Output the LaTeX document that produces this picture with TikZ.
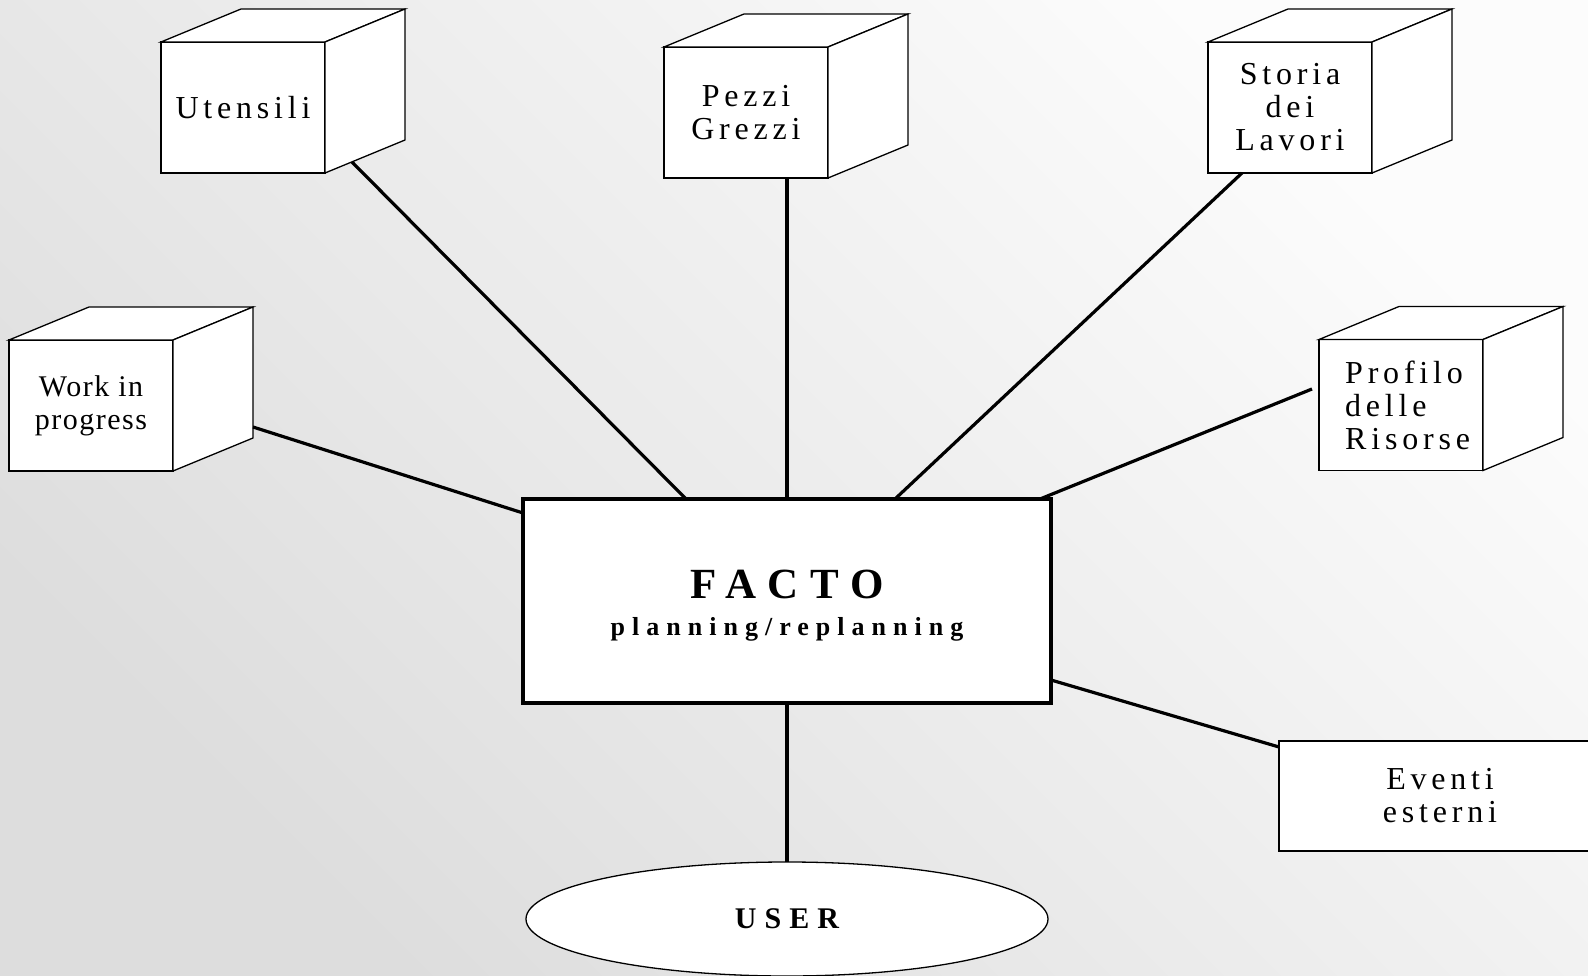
\documentclass[tikz,border=0pt]{standalone}
\usepackage{fontspec}
\setmainfont{Liberation Serif}
\newfontfamily\wideserif[LetterSpace=15]{Liberation Serif}
\newfontfamily\narrowserif[LetterSpace=5]{Liberation Serif}
\newfontfamily\widebold[LetterSpace=27]{Liberation Serif}
\usetikzlibrary{shapes.geometric}

\definecolor{bgdark}{gray}{0.865}
\definecolor{bglight}{gray}{0.99}

\tikzset{
  cubeline/.style={draw=black, fill=white, line width=1.3pt, line join=miter},
  cubeface/.style={cubeline, minimum width=164pt, minimum height=131pt,
    inner sep=0pt, outer sep=0pt, align=center,
    font=\wideserif\fontsize{32}{33}\selectfont},
  labeltext/.style={inner sep=0pt, align=left,
    font=\wideserif\fontsize{32}{33}\selectfont},
  link/.style={line width=3.2pt},
  mainbox/.style={draw=black, fill=white, line width=3.5pt, inner sep=0pt,
    outer sep=0pt, minimum width=528pt, minimum height=204pt, align=center,
    font=\widebold\bfseries\fontsize{26}{37}\selectfont},
  flatbox/.style={cubeline, minimum width=322pt, minimum height=110pt,
    inner sep=0pt, outer sep=0pt, align=center,
    font=\wideserif\fontsize{32}{33}\selectfont},
  userbox/.style={ellipse, cubeline, minimum width=522pt, minimum height=114pt,
    inner sep=0pt, outer sep=0pt,
    font=\widebold\bfseries\fontsize{30}{33}\selectfont}
}

% top and right faces of a box whose front face is node #1
\newcommand\cubesides[1]{%
  \draw[cubeline] (#1.north west) -- ++(80,-33) -- ++(164,0) -- (#1.north east) -- cycle;
  \draw[cubeline] (#1.north east) -- ++(80,-33) -- ++(0,131) -- (#1.south east) -- cycle;
}

\begin{document}
\begin{tikzpicture}[x=1pt, y=-1pt]
  \useasboundingbox (0,0) rectangle (1588,976);
  \shade[top color=bglight, bottom color=bgdark, shading angle=-45]
    (0,0) rectangle (1588,976);

  % data stores
  \node[cubeface] (ut) at (243,107.5) {Utensili};
  \cubesides{ut}
  \node[cubeface] (pz) at (746,112.5) {Pezzi\\Grezzi};
  \cubesides{pz}
  \node[cubeface] (st) at (1290,107.5) {Storia\\dei\\Lavori};
  \cubesides{st}
  \node[cubeface, font=\narrowserif\fontsize{30}{33}\selectfont] (wp) at (91,405.5) {Work in\\progress};
  \cubesides{wp}
  \node[cubeface] (pr) at (1401,405) {};
  \cubesides{pr}
  \node[labeltext, anchor=west] (prtext) at ([xshift=26pt]pr.west) {Profilo\\delle\\Risorse};

  % planner
  \node[mainbox] (facto) at (787,601)
    {{\fontsize{43}{37}\selectfont\rule{0pt}{38pt}FACTO}\\planning/replanning};

  % external events and user
  \node[flatbox] (ev) at (1440,796) {Eventi\\esterni};
  \node[userbox] (user) at (787,919) {USER};

  % connections
  \draw[link] ([shift={(27,-11)}]ut.south east) -- ([xshift=163pt]facto.north west);
  \draw[link] (facto.north) -- (facto.north |- pz.south);
  \draw[link] ([xshift=34pt]st.south west) -- ([xshift=372pt]facto.north west);
  \draw[link] ([shift={(80,-44)}]wp.south east) -- ([yshift=-14pt]facto.north west);
  \draw[link] ([shift={(-7,-16)}]pr.west) -- ([xshift=-11pt]facto.north east);
  \draw[link] ([yshift=23pt]facto.south east) -- ([yshift=-6pt]ev.north west);
  \draw[link] (facto.south) -- (facto.south |- user.north);
\end{tikzpicture}
\end{document}
